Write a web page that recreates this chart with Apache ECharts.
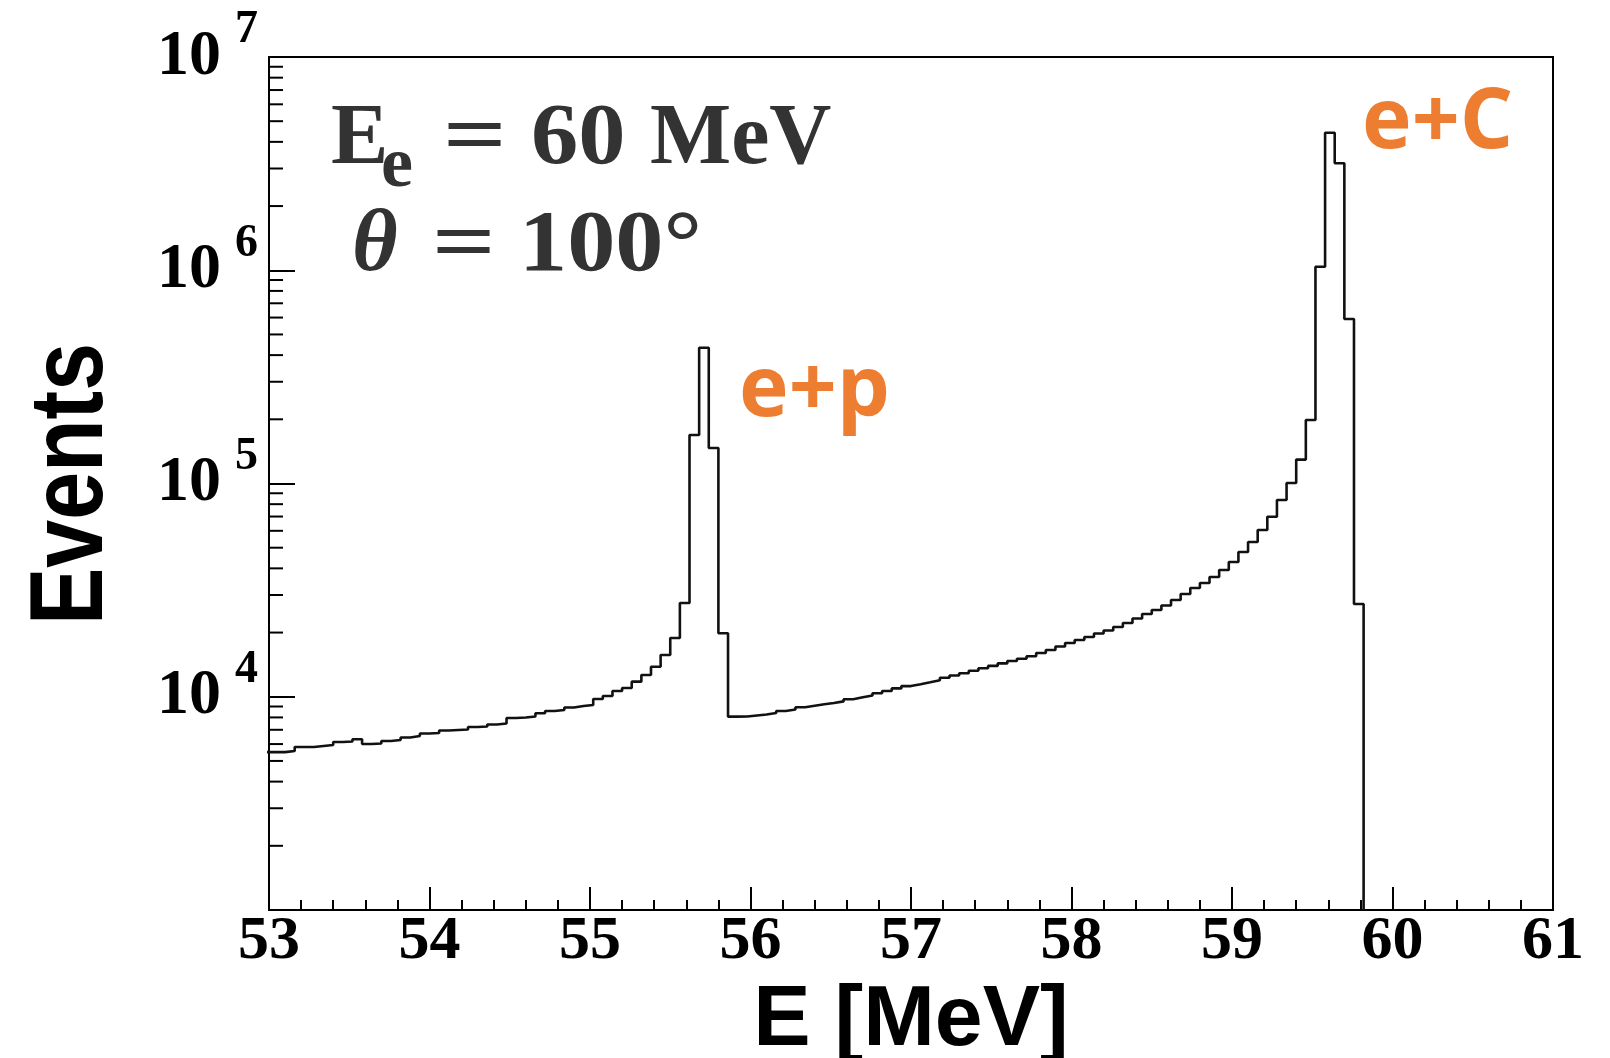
<!DOCTYPE html>
<html>
<head>
<meta charset="utf-8">
<script src="https://cdn.jsdelivr.net/npm/echarts@6/dist/echarts.min.js"></script>
<style>
html,body{margin:0;padding:0;background:#fff;}
#chart{width:1610px;height:1058px;}
</style>
</head>
<body>
<div id="chart"></div>
<script>
// ---- data ----
const E_LOW = 52.98;          // lower edge of first histogram bin [MeV]
const BIN_W = 0.06;           // bin width [MeV]
const counts = [
  5500, 5500, 5570, 5810, 5810, 5875, 5940, 6135, 6170, 6320,
  6000, 6035, 6200, 6270, 6440, 6545, 6725, 6760, 6945, 6985,
  7020, 7215, 7250, 7410, 7490, 7950, 7995, 8080, 8365, 8575,
  8670, 8905, 9050, 9150, 9760, 10080, 10640, 10990, 11770, 12650,
  13830, 15700, 18860, 27500, 168800, 433000, 146700, 19840, 8065, 8080,
  8170, 8255, 8390, 8575, 8715, 8935, 9080, 9220, 9350, 9510,
  9730, 9940, 10135, 10390, 10640, 10945, 11220, 11450, 11690, 11945,
  12270, 12580, 12895, 13235, 13600, 13955, 14335, 14710, 15080, 15495,
  16040, 16570, 17205, 17870, 18460, 19065, 19800, 20450, 21240, 22175,
  23280, 24440, 25520, 26790, 28430, 30330, 32360, 34160, 36440, 39300,
  42840, 47730, 53190, 60530, 69890, 83670, 100540, 129450, 198600, 1039000,
  4416000, 3174000, 590800, 27220, 0
];
const xRange = [53, 61];
const xTickLabels = ['53','54','55','56','57','58','59','60','61'];
const yDecades = [3, 4, 5, 6, 7];
const yMinorMantissas = [2, 3, 4, 5, 6, 7, 8, 9];
const xTitle = 'E [MeV]';
const yTitle = 'Events';
const peakLabels = ['e+p', 'e+C'];

// ---- build ----
const Y_MIN = Math.pow(10, yDecades[0]);
const Y_MAX = Math.pow(10, yDecades[yDecades.length - 1]);
const histData = counts.map((c, j) => [+(E_LOW + j * BIN_W).toFixed(4), c > 0 ? c : Y_MIN]);
const minorTickData = [];
yDecades.slice(0, -1).forEach(d => yMinorMantissas.forEach(m => minorTickData.push([xRange[0], m * Math.pow(10, d)])));

const chart = echarts.init(document.getElementById('chart'), null, {renderer: 'canvas'});
const serifBold = {fontFamily: '"Liberation Serif"', fontWeight: 'bold'};
const annColor = '#333333';
const orange = '#ED7D31';
const annFont = 'bold 86px "Liberation Serif"';

chart.setOption({
  animation: false,
  backgroundColor: '#ffffff',
  grid: {left: 269, right: 57, top: 57, bottom: 148, show: true, borderColor: '#000', borderWidth: 2,
         containLabel: false, outerBoundsMode: 'none'},
  xAxis: {
    type: 'value', min: xRange[0], max: xRange[1], interval: 1,
    name: xTitle, nameLocation: 'middle', nameGap: 54,
    nameTextStyle: {fontFamily: '"Liberation Sans"', fontWeight: 'bold', fontSize: 86, color: '#000'},
    axisLine: {show: true, lineStyle: {color: '#000', width: 2}},
    axisTick: {show: true, inside: true, length: 23, lineStyle: {color: '#000', width: 2}},
    minorTick: {show: true, splitNumber: 5, length: 10, lineStyle: {color: '#000', width: 2}},
    splitLine: {show: false},
    axisLabel: {
      margin: 1, color: '#000', fontSize: 62, ...serifBold,
      formatter: v => xTickLabels[Math.round(v - xRange[0])]
    }
  },
  yAxis: {
    type: 'log', logBase: 10, min: Y_MIN, max: Y_MAX, splitNumber: 4,
    axisLine: {show: true, lineStyle: {color: '#000', width: 2}},
    axisTick: {show: true, inside: true, length: 26, lineStyle: {color: '#000', width: 2}},
    splitLine: {show: false},
    axisLabel: {
      showMinLabel: false, margin: 11,
      formatter: v => {
        const d = Math.round(Math.log10(v));
        if (d === yDecades[0]) return '';
        return '{b|10}{e|' + yDecades[yDecades.indexOf(d)] + '}';
      },
      rich: {
        b: {fontSize: 64, lineHeight: 64, color: '#000', verticalAlign: 'middle', ...serifBold},
        e: {fontSize: 46, lineHeight: 46, color: '#000', verticalAlign: 'middle', padding: [0, 0, 53, 14], ...serifBold}
      }
    }
  },
  series: [
    {
      type: 'line', step: 'end', data: histData, showSymbol: false, clip: true,
      lineStyle: {color: '#111', width: 2.6}, z: 3, silent: true
    },
    {
      type: 'custom', data: minorTickData, silent: true, z: 4, clip: true,
      renderItem: (params, api) => {
        const p = api.coord([api.value(0), api.value(1)]);
        return {type: 'line', shape: {x1: p[0], y1: p[1], x2: p[0] + 14, y2: p[1]}, style: {stroke: '#000', lineWidth: 2}};
      }
    }
  ],
  graphic: [
    {type: 'text', x: 74, y: 484, rotation: Math.PI / 2, scaleY: 1.2,
     style: {text: yTitle, font: 'bold 86px "Liberation Sans"', fill: '#000', align: 'center', verticalAlign: 'middle'}},
    {type: 'text', x: 331, y: 141, style: {text: 'E', font: annFont, fill: annColor, align: 'left', verticalAlign: 'middle'}},
    {type: 'text', x: 381, y: 167, style: {text: 'e', font: 'bold 72px "Liberation Serif"', fill: annColor, align: 'left', verticalAlign: 'middle'}},
    {type: 'text', x: 443, y: 141, scaleX: 1.3, style: {text: '=', font: annFont, fill: annColor, align: 'left', verticalAlign: 'middle'}},
    {type: 'text', x: 531, y: 141, scaleX: 1.1, style: {text: '60', font: annFont, fill: annColor, align: 'left', verticalAlign: 'middle'}},
    {type: 'text', x: 650, y: 141, style: {text: 'MeV', font: annFont, fill: annColor, align: 'left', verticalAlign: 'middle'}},
    {type: 'text', x: 352, y: 247, style: {text: 'θ', font: 'italic bold 88px "Liberation Serif"', fill: annColor, align: 'left', verticalAlign: 'middle'}},
    {type: 'text', x: 432, y: 248, scaleX: 1.3, style: {text: '=', font: annFont, fill: annColor, align: 'left', verticalAlign: 'middle'}},
    {type: 'text', x: 519, y: 248, scaleX: 1.12, style: {text: '100°', font: annFont, fill: annColor, align: 'left', verticalAlign: 'middle'}},
    {type: 'text', x: 739, y: 392, style: {text: peakLabels[0], font: 'bold 84px "Open Sans"', fill: orange, align: 'left', verticalAlign: 'middle'}},
    {type: 'text', x: 1362, y: 124, style: {text: peakLabels[1], font: 'bold 84px "Open Sans"', fill: orange, align: 'left', verticalAlign: 'middle'}}
  ]
});
</script>
</body>
</html>
